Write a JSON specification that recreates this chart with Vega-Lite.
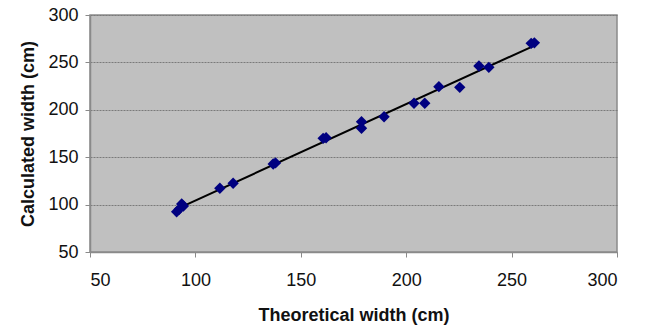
{
  "$schema": "https://vega.github.io/schema/vega-lite/v6.json",
  "width": 527,
  "height": 237,
  "autosize": {"type": "none"},
  "padding": {"left": 90, "top": 15, "right": 29, "bottom": 74},
  "background": "white",
  "config": {
    "font": "Liberation Sans",
    "view": {"fill": "#c0c0c0", "stroke": "#8a8a8a", "strokeWidth": 1.5},
    "axis": {
      "labelFont": "Liberation Sans",
      "titleFont": "Liberation Sans",
      "labelFontSize": 18,
      "titleFontSize": 18,
      "titleFontWeight": "bold",
      "labelColor": "#111",
      "titleColor": "#111",
      "domainColor": "#8a8a8a",
      "domainWidth": 1.5,
      "tickColor": "#8a8a8a",
      "tickSize": 5
    }
  },
  "data": {
    "values": [
      {"x": 91.1, "y": 92.5},
      {"x": 92.3, "y": 95.0},
      {"x": 93.5, "y": 100.6},
      {"x": 94.3, "y": 98.5},
      {"x": 111.6, "y": 117.2},
      {"x": 117.9, "y": 122.5},
      {"x": 136.9, "y": 142.8},
      {"x": 138.0, "y": 144.0},
      {"x": 160.6, "y": 169.9},
      {"x": 162.0, "y": 170.5},
      {"x": 178.8, "y": 187.4},
      {"x": 178.8, "y": 180.5},
      {"x": 189.5, "y": 192.7},
      {"x": 203.7, "y": 206.9},
      {"x": 208.8, "y": 206.9},
      {"x": 215.5, "y": 224.4},
      {"x": 225.4, "y": 223.7},
      {"x": 234.5, "y": 246.2},
      {"x": 239.2, "y": 244.8},
      {"x": 259.3, "y": 270.1},
      {"x": 260.8, "y": 270.6}
    ]
  },
  "layer": [
    {
      "transform": [{"regression": "y", "on": "x"}],
      "mark": {"type": "line", "color": "#000000", "strokeWidth": 2},
      "encoding": {
        "x": {"field": "x", "type": "quantitative"},
        "y": {"field": "y", "type": "quantitative"}
      }
    },
    {
      "mark": {"type": "point", "shape": "diamond", "filled": true, "color": "#000080", "size": 130, "opacity": 1},
      "encoding": {
        "x": {
          "field": "x", "type": "quantitative",
          "scale": {"domain": [50, 300], "nice": false, "zero": false},
          "axis": {"title": "Theoretical width (cm)", "values": [50, 100, 150, 200, 250, 300], "grid": false, "labelPadding": 14, "titlePadding": 17}
        },
        "y": {
          "field": "y", "type": "quantitative",
          "scale": {"domain": [50, 300], "nice": false, "zero": false},
          "axis": {"title": "Calculated width (cm)", "values": [50, 100, 150, 200, 250, 300], "grid": true, "gridColor": "#7a7a7a", "gridDash": [2, 1], "gridWidth": 1.2, "labelPadding": 7, "titlePadding": 10}
        }
      }
    }
  ]
}
